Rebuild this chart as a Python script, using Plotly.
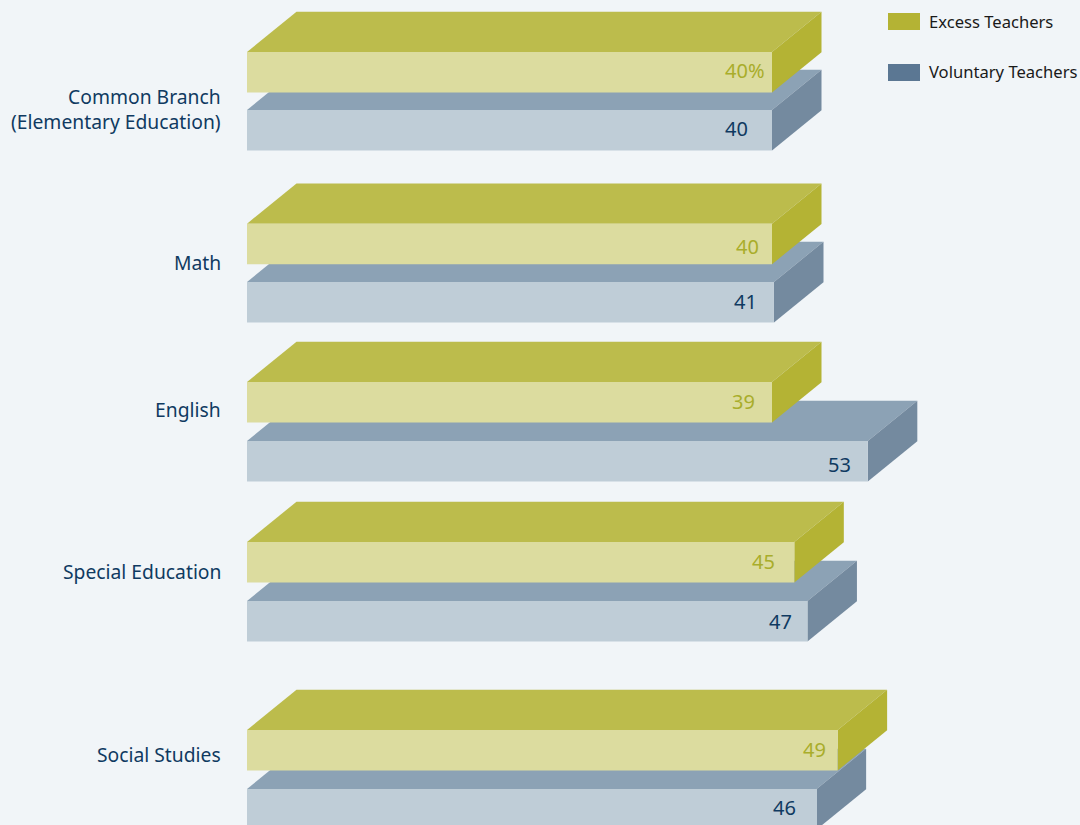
import plotly.graph_objects as go

categories = ["Common Branch<br>(Elementary Education)", "Math", "English", "Special Education", "Social Studies"]
excess_labels = ["40%", "40", "39", "45", "49"]
voluntary_labels = ["40", "41", "53", "47", "46"]
# drawn lengths differ a bit from the printed numbers in the original
excess_lengths = [40.0, 40.0, 40.0, 41.7, 45.0]
voluntary_lengths = [40.0, 40.15, 47.3, 42.7, 43.4]

# layout of the picture, in pixels
W, H = 1080, 825
X0 = 247
PX_PER_UNIT = 13.125
DX, DY = 49.5, 40.3
BAR_H = 40.5
excess_tops = [52, 223.7, 382, 542, 730]
voluntary_tops = [110, 282, 441, 601, 789]
label_y = [109, 262, 409, 571, 754]
# the number labels are not placed evenly in the original
excess_text_y = [70.5, 246.5, 401.5, 561.5, 749.5]
voluntary_text_y = [128.5, 301.5, 464.5, 621.5, 807.5]
excess_text_gap = [5, 11, 15, 17, 10]
voluntary_text_gap = [22, 15, 15, 13, 19]

BG = "#f1f5f8"
NAVY = "#0f3a61"
OLIVE_TEXT = "#a9ad2b"
FONT = "Noto Sans"
excess_colors = {"top": "#bcbc4c", "side": "#b4b334", "front": "#dcdc9f"}
voluntary_colors = {"top": "#8ca2b5", "side": "#748a9f", "front": "#bfcdd7"}

dx_u = DX / PX_PER_UNIT


def face(fig, xs, ys, color):
	fig.add_trace(go.Scatter(x=xs, y=ys, mode="lines", fill="toself", fillcolor=color,
		line=dict(width=0), hoverinfo="skip", showlegend=False))


def block(fig, length, top, colors):
	bottom = top + BAR_H
	face(fig, [0, dx_u, length + dx_u, length, 0], [top, top - DY, top - DY, top, top], colors["top"])
	face(fig, [length, length + dx_u, length + dx_u, length, length], [top, top - DY, bottom - DY, bottom, top], colors["side"])
	face(fig, [0, length, length, 0, 0], [top, top, bottom, bottom, top], colors["front"])


fig = go.Figure()
annotations = []

for i, cat in enumerate(categories):
	block(fig, voluntary_lengths[i], voluntary_tops[i], voluntary_colors)
	block(fig, excess_lengths[i], excess_tops[i], excess_colors)
	annotations.append(dict(x=voluntary_lengths[i], y=voluntary_text_y[i], text=voluntary_labels[i],
		xanchor="right", yanchor="middle", xshift=-voluntary_text_gap[i], showarrow=False,
		font=dict(color=NAVY, size=20, family=FONT)))
	annotations.append(dict(x=excess_lengths[i], y=excess_text_y[i], text=excess_labels[i],
		xanchor="right", yanchor="middle", xshift=-excess_text_gap[i], showarrow=False,
		font=dict(color=OLIVE_TEXT, size=20, family=FONT)))
	annotations.append(dict(x=0, y=label_y[i], text=cat, xanchor="right", yanchor="middle", xshift=-24, align="right",
		showarrow=False, font=dict(color=NAVY, size=19.3, family=FONT)))

# legend keys
legend_items = [("Excess Teachers", "#b4b334", 13, 21.5), ("Voluntary Teachers", "#5b7793", 64, 71.5)]
shapes = []
for name, color, y, text_y in legend_items:
	shapes.append(dict(type="rect", xref="paper", yref="paper", x0=888 / W, x1=920 / W,
		y0=1 - y / H, y1=1 - (y + 17) / H, fillcolor=color, line=dict(width=0)))
	annotations.append(dict(xref="paper", yref="paper", x=929 / W, y=1 - text_y / H, text=name,
		xanchor="left", yanchor="middle", xshift=-2, showarrow=False,
		font=dict(color="#1a1a1a", size=16.6, family=FONT)))

fig.update_layout(
	width=W, height=H,
	margin=dict(l=0, r=0, t=0, b=0),
	paper_bgcolor=BG, plot_bgcolor=BG,
	showlegend=False,
	annotations=annotations,
	shapes=shapes,
	xaxis=dict(visible=False, range=[-X0 / PX_PER_UNIT, (W - X0) / PX_PER_UNIT], fixedrange=True),
	yaxis=dict(visible=False, range=[H, 0], fixedrange=True),
)

fig.write_html("out.html", config=dict(displayModeBar=False),
	post_script="document.body.style.margin='0';document.body.style.background='#f1f5f8';")
